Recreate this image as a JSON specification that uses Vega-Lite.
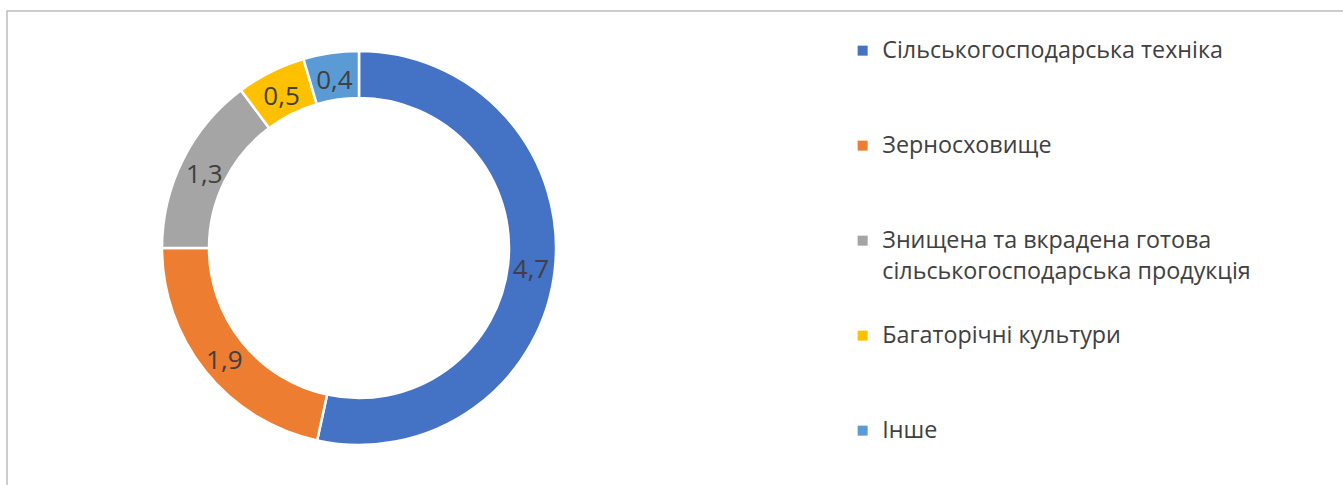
{
  "$schema": "https://vega.github.io/schema/vega-lite/v6.json",
  "width": 1343,
  "height": 485,
  "autosize": "none",
  "padding": {"left": 7, "top": 11, "right": 0, "bottom": 0},
  "background": "white",
  "view": {"stroke": "#BDBDBD", "strokeWidth": 1.5},
  "config": {
    "view": {"stroke": "#BDBDBD", "strokeWidth": 1.5},
    "style": {"guide-label": {"lineHeight": 31, "dy": -15}},
    "locale": {"number": {"decimal": ",", "thousands": " ", "grouping": [3], "currency": ["", " ₴"]}}
  },
  "data": {
    "values": [
      {"category": "Сільськогосподарська техніка", "value": 4.7, "order": 1},
      {"category": "Зерносховище", "value": 1.9, "order": 2},
      {"category": "Знищена та вкрадена готова сільськогосподарська продукція", "value": 1.3, "order": 3},
      {"category": "Багаторічні культури", "value": 0.5, "order": 4},
      {"category": "Інше", "value": 0.4, "order": 5}
    ]
  },
  "encoding": {
    "theta": {"field": "value", "type": "quantitative", "stack": true},
    "order": {"field": "order", "type": "quantitative"}
  },
  "layer": [
    {
      "mark": {"type": "arc", "innerRadius": 150, "outerRadius": 197, "x": 352, "y": 237, "stroke": "white", "strokeWidth": 2.5},
      "encoding": {
        "color": {
          "field": "category",
          "type": "nominal",
          "sort": null,
          "scale": {
            "domain": ["Сільськогосподарська техніка", "Зерносховище", "Знищена та вкрадена готова сільськогосподарська продукція", "Багаторічні культури", "Інше"],
            "range": ["#4472C4", "#ED7D31", "#A5A5A5", "#FFC000", "#5B9BD5"]
          },
          "legend": {
            "orient": "none",
            "legendX": 844,
            "legendY": 28,
            "title": null,
            "symbolType": "square",
            "symbolSize": 100,
            "symbolStrokeWidth": 0,
            "symbolOpacity": 1,
            "labelFont": "Open Sans",
            "labelFontSize": 23.3,
            "labelColor": "#404040",
            "labelOffset": 8,
            "labelLimit": 0,
            "labelBaseline": "line-top",
            "gridAlign": "all",
            "rowPadding": 40,
            "labelExpr": "datum.label == 'Знищена та вкрадена готова сільськогосподарська продукція' ? ['Знищена та вкрадена готова', 'сільськогосподарська продукція'] : datum.label"
          }
        }
      }
    },
    {
      "mark": {"type": "text", "radius": 173, "x": 352, "y": 237, "dy": 4, "font": "Open Sans", "fontSize": 26, "fill": "#404040"},
      "encoding": {
        "text": {"field": "value", "type": "quantitative", "format": ".1f"}
      }
    }
  ]
}
